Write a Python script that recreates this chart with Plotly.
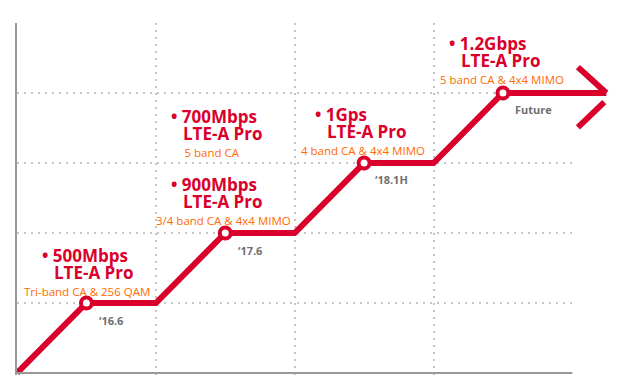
import plotly.graph_objects as go

# ---- data ----
path_x = [0, 0.5, 1, 1.5, 2, 2.5, 3, 3.5, 4.245]
path_y = [0, 1, 1, 2, 2, 3, 3, 4, 4]
arrow_upper_x = [4.04, 4.245]
arrow_upper_y = [4.37, 4.0]
arrow_lower_x = [4.23, 4.04]
arrow_lower_y = [3.87, 3.51]

milestone_x = [0.5, 1.5, 2.5, 3.5]
milestone_y = [1, 2, 3, 4]
milestone_dates = ["\u201816.6", "\u201817.6", "\u201818.1H", "Future"]

speeds = ["500Mbps", "900Mbps", "700Mbps", "1Gps", "1.2Gbps"]
tech = ["LTE-A Pro"] * 5
features = ["Tri-band CA & 256 QAM", "3/4 band CA & 4x4 MIMO", "5 band CA",
            "4 band CA & 4x4 MIMO", "5 band CA & 4x4 MIMO"]

grid_x = [1, 2, 3]
grid_y = [1, 2, 3, 4]

# ---- label placement (style / layout only) ----
# (block left x, block top y, indent px of headline, tech, feature line)
block_pos = [
    (0.043, 1.853, 18, 30, 0),
    (0.993, 2.865, 15, 27, 0),
    (1.101, 3.850, 0, 12, 12),
    (2.035, 3.865, 14, 26, 0),
    (3.043, 4.879, 9, 21, 0),
]
date_pos = [(0.583, 0.743), (1.583, 1.757), (2.568, 2.764), (3.583, 3.764)]

RED = "#d9002b"
ORANGE = "#ff6a00"
GRAY = "#707070"
FONT = "Open Sans"
NB = "\u00a0"


def indent(px, size=13):
    """Horizontal indent built from non-breaking spaces (0.26em each in Open Sans)."""
    w = 0.26 * size
    n = int(px // w)
    rem = px - n * w
    s = NB * n
    if rem > 0.3:
        s += f"<span style='font-size:{rem / 0.26:.1f}px'>{NB}</span>"
    return s


fig = go.Figure()

fig.add_trace(go.Scatter(x=path_x, y=path_y, mode="lines",
                         line=dict(color=RED, width=6), hoverinfo="skip"))
fig.add_trace(go.Scatter(x=arrow_upper_x, y=arrow_upper_y, mode="lines",
                         line=dict(color=RED, width=6), hoverinfo="skip"))
fig.add_trace(go.Scatter(x=arrow_lower_x, y=arrow_lower_y, mode="lines",
                         line=dict(color=RED, width=6), hoverinfo="skip"))
fig.add_trace(go.Scatter(x=milestone_x, y=milestone_y, mode="markers",
                         marker=dict(size=11, color="white",
                                     line=dict(color=RED, width=4)),
                         hoverinfo="skip"))

for gy in grid_y:
    fig.add_shape(type="line", x0=0, x1=4, y0=gy, y1=gy, xref="x", yref="y",
                  layer="below", line=dict(color="#c4c4c4", width=2, dash="2px,5px"))
fig.add_shape(type="line", x0=0, x1=4, y0=0, y1=0, xref="x", yref="y",
              layer="above", line=dict(color="#999999", width=2))

ann = []
for i, (bx, by, ih, it, isub) in enumerate(block_pos):
    head = f"{indent(ih)}<span style='font-size:17px;color:{RED}'><b>\u2022 {speeds[i]}</b></span>"
    mid = f"{indent(it)}<span style='font-size:17px;color:{RED}'><b>{tech[i]}</b></span>"
    sub = f"{indent(isub, 11.5)}<span style='font-size:11.5px;color:{ORANGE}'>{features[i]}</span>"
    ann.append(dict(x=bx, y=by, text="<br>".join([head, mid, sub]),
                    xanchor="left", yanchor="top", align="left",
                    font=dict(family=FONT, size=13, color=RED)))
for (dx, dy), d in zip(date_pos, milestone_dates):
    ann.append(dict(x=dx, y=dy, text=d, xanchor="left", yanchor="middle",
                    font=dict(family=FONT, size=11, color=GRAY, weight="bold")))
for a in ann:
    a.update(showarrow=False, xref="x", yref="y", borderpad=0)

fig.update_layout(
    width=630, height=383,
    margin=dict(l=17, r=16, t=23, b=8),
    paper_bgcolor="white", plot_bgcolor="white",
    showlegend=False,
    annotations=ann,
    xaxis=dict(range=[0, 4.3], tickvals=grid_x, showticklabels=False,
               showgrid=True, gridcolor="#c4c4c4", gridwidth=2, griddash="2px,5px",
               zeroline=False, showline=False, ticks="", fixedrange=True),
    yaxis=dict(range=[-1 / 35, 5], showticklabels=False, showgrid=False,
               zeroline=False, showline=True, linecolor="#999999", linewidth=2,
               ticks="", fixedrange=True),
)

fig.write_html("out.html", config={"displayModeBar": False},
               post_script="document.body.style.margin='0';document.body.style.overflow='hidden';")
